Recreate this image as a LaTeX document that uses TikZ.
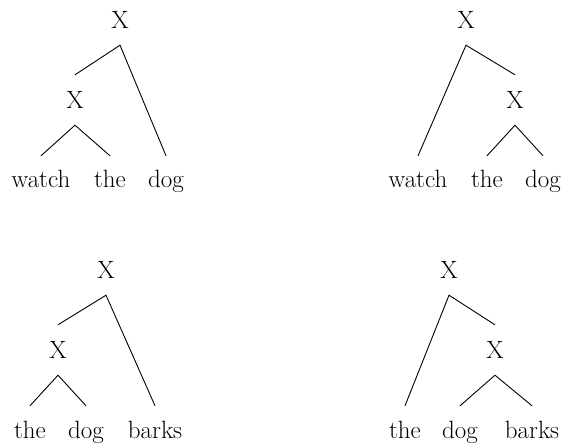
\documentclass[tikz,border=0pt]{standalone}
\usepackage{fontspec}
\begin{document}
\begin{tikzpicture}[x=1pt,y=-1pt,
  cat/.style={inner sep=0pt,minimum height=50pt,font=\fontsize{25}{29}\selectfont},
  word/.style={anchor=base,inner xsep=0pt,inner ysep=0pt,text height=32pt,text depth=0pt,font=\fontsize{25}{29}\selectfont},
  edge/.style={draw,line width=0.9pt}]
\useasboundingbox (0,0) rectangle (564,446);
% Tree 1
\node[cat] (a0) at (120,20) {X};
\node[cat] (a1) at (75,100) {X};
\node[word] (aw1) at (41,188) {watch};
\node[word] (aw2) at (110,188) {the};
\node[word] (aw3) at (166,188) {dog};
\draw[edge] (a1.north) -- (a0.south) -- (aw3.north);
\draw[edge] (aw1.north) -- (a1.south) -- (aw2.north);
% Tree 2
\node[cat] (b0) at (466,20) {X};
\node[cat] (b1) at (515,100) {X};
\node[word] (bw1) at (418,188) {watch};
\node[word] (bw2) at (487,188) {the};
\node[word] (bw3) at (543,188) {dog};
\draw[edge] (bw1.north) -- (b0.south) -- (b1.north);
\draw[edge] (bw2.north) -- (b1.south) -- (bw3.north);
% Tree 3
\node[cat] (c0) at (106,270) {X};
\node[cat] (c1) at (58,350) {X};
\node[word] (cw1) at (30,438) {the};
\node[word] (cw2) at (86,438) {dog};
\node[word] (cw3) at (155,438) {barks};
\draw[edge] (c1.north) -- (c0.south) -- (cw3.north);
\draw[edge] (cw1.north) -- (c1.south) -- (cw2.north);
% Tree 4
\node[cat] (d0) at (449,270) {X};
\node[cat] (d1) at (495,350) {X};
\node[word] (dw1) at (405,438) {the};
\node[word] (dw2) at (460,438) {dog};
\node[word] (dw3) at (532,438) {barks};
\draw[edge] (dw1.north) -- (d0.south) -- (d1.north);
\draw[edge] (dw2.north) -- (d1.south) -- (dw3.north);
\end{tikzpicture}
\end{document}
